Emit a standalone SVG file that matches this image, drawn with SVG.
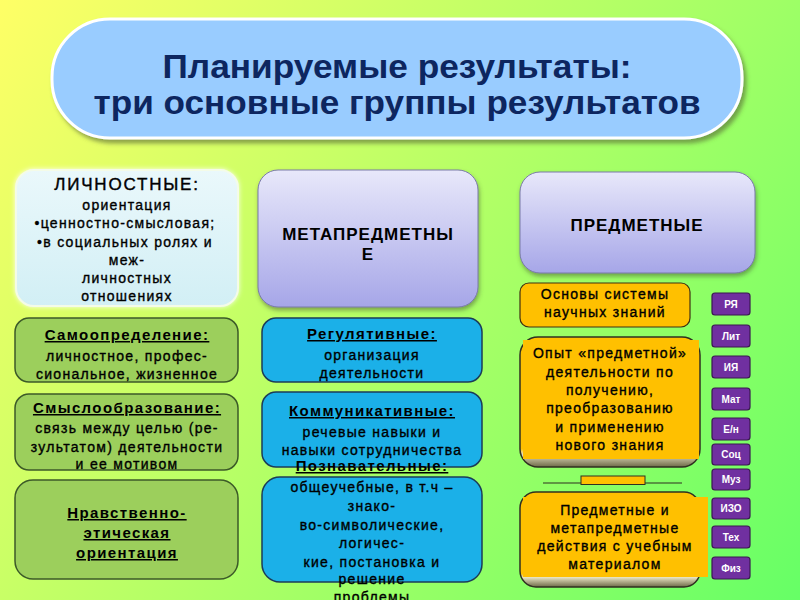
<svg xmlns="http://www.w3.org/2000/svg" width="800" height="600" viewBox="0 0 800 600">
<defs>
<linearGradient id="bg" gradientUnits="userSpaceOnUse" x1="0" y1="0" x2="800" y2="600">
<stop offset="0" stop-color="#ffff66"/><stop offset="1" stop-color="#66ff66"/>
</linearGradient>
<linearGradient id="lav" x1="0" y1="0" x2="0" y2="1">
<stop offset="0" stop-color="#e8e8fa"/><stop offset="1" stop-color="#a6a6e8"/>
</linearGradient>
<linearGradient id="cyan" x1="0" y1="0" x2="0" y2="1">
<stop offset="0" stop-color="#eaf8fb"/><stop offset="1" stop-color="#d2eff5"/>
</linearGradient>
<linearGradient id="scroll" x1="0" y1="0" x2="0" y2="1">
<stop offset="0" stop-color="#ffc000"/><stop offset="0.86" stop-color="#ffc000"/><stop offset="0.9" stop-color="#e6e2c0"/><stop offset="1" stop-color="#6e6a48"/>
</linearGradient>
<filter id="sh" x="-10%" y="-10%" width="125%" height="130%">
<feDropShadow dx="3" dy="4" stdDeviation="2" flood-color="#556633" flood-opacity="0.6"/>
</filter>
<filter id="sh2" x="-10%" y="-10%" width="125%" height="130%">
<feDropShadow dx="1" dy="3" stdDeviation="2" flood-color="#405030" flood-opacity="0.5"/>
</filter>
<filter id="glow" x="-10%" y="-10%" width="120%" height="120%">
<feDropShadow dx="0" dy="0" stdDeviation="2.5" flood-color="#ffffff" flood-opacity="0.9"/>
</filter>
</defs>
<style>
text{font-family:"Liberation Sans",Arial,sans-serif;text-anchor:middle;fill:#000}
.t{font-weight:bold;font-size:34px;fill:#0d2660}
.b{font-size:14px;letter-spacing:1.3px;stroke:#000;stroke-width:0.35px}
.h{font-size:15px;font-weight:bold;letter-spacing:1.4px;text-decoration:underline}
.cap{font-size:17px;font-weight:bold;letter-spacing:1px}
.chip rect{fill:#7030a0;stroke:#3a1850;stroke-width:1.2}
.chip text{fill:#fff;font-size:10px;font-weight:bold}
.green{fill:#9ccf5c;stroke:#3c5a28;stroke-width:1.5}
.blue{fill:#1bb0e8;stroke:#1c3c58;stroke-width:1.5}
.orange{fill:#ffc000;stroke:#403010;stroke-width:1.2}
.scr{fill:url(#scroll);stroke:#303020;stroke-width:1.5}
</style>
<rect width="800" height="600" fill="url(#bg)"/>

<g id="title">
<rect x="52" y="19" width="690" height="119" rx="58" fill="#99ccff" stroke="#ffffff" stroke-width="3" filter="url(#sh)"/>
<text class="t" x="397" y="78" textLength="469" lengthAdjust="spacingAndGlyphs">Планируемые результаты:</text>
<text class="t" x="397" y="114" textLength="607" lengthAdjust="spacingAndGlyphs">три основные группы результатов</text>
</g>

<g id="lichnostnye">
<rect x="16" y="170" width="222" height="136" rx="18" fill="url(#cyan)" stroke="#f4fbe8" stroke-width="2" filter="url(#glow)"/>
<text x="127" y="190" style="font-size:17px;letter-spacing:1.8px;stroke:#000;stroke-width:0.4px">ЛИЧНОСТНЫЕ:</text>
<text class="b" x="127" y="210">ориентация</text>
<text class="b" x="125" y="228">•ценностно-смысловая;</text>
<text class="b" x="125" y="247">•в социальных ролях и</text>
<text class="b" x="127" y="265">меж-</text>
<text class="b" x="127" y="283">личностных</text>
<text class="b" x="127" y="301">отношениях</text>
</g>

<g id="samoopredelenie">
<rect class="green" x="15" y="318" width="223" height="64" rx="14"/>
<text class="h" x="127" y="340">Самоопределение:</text>
<text class="b" x="127" y="361">личностное, профес-</text>
<text class="b" x="127" y="379">сиональное, жизненное</text>
</g>

<g id="smysloobrazovanie">
<rect class="green" x="15" y="394" width="223" height="76" rx="14"/>
<text class="h" x="127" y="413">Смыслообразование:</text>
<text class="b" x="127" y="433">связь между целью (ре-</text>
<text class="b" x="127" y="452">зультатом) деятельности</text>
<text class="b" x="127" y="469">и ее мотивом</text>
</g>

<g id="nravstvenno">
<rect class="green" x="15" y="480" width="223" height="99" rx="18"/>
<text class="h" x="127" y="518">Нравственно-</text>
<text class="h" x="127" y="538">этическая</text>
<text class="h" x="127" y="558">ориентация</text>
</g>

<g id="metapredmetnye">
<rect x="258" y="170" width="220" height="137" rx="20" fill="url(#lav)" stroke="#7a7aa8" stroke-width="1" filter="url(#sh2)"/>
<text class="cap" x="368" y="240">МЕТАПРЕДМЕТНЫ</text>
<text class="cap" x="368" y="260">Е</text>
</g>

<g id="regulyativnye">
<rect class="blue" x="262" y="318" width="220" height="64" rx="14"/>
<text class="h" x="372" y="339">Регулятивные:</text>
<text class="b" x="372" y="360">организация</text>
<text class="b" x="372" y="378">деятельности</text>
</g>

<g id="kommunikativnye">
<rect class="blue" x="262" y="392" width="220" height="75" rx="14"/>
<text class="h" x="372" y="416">Коммуникативные:</text>
<text class="b" x="372" y="437">речевые навыки и</text>
<text class="b" x="372" y="455">навыки сотрудничества</text>
</g>

<g id="poznavatelnye">
<rect class="blue" x="262" y="477" width="220" height="105" rx="18"/>
<text class="h" x="372" y="471">Познавательные:</text>
<text class="b" x="372" y="492">общеучебные, в т.ч –</text>
<text class="b" x="372" y="511">знако-</text>
<text class="b" x="372" y="530">во-символические,</text>
<text class="b" x="372" y="548">логичес-</text>
<text class="b" x="372" y="567">кие, постановка и</text>
<text class="b" x="372" y="584">решение</text>
<text class="b" x="372" y="602">проблемы</text>
</g>

<g id="predmetnye">
<rect x="520" y="172" width="235" height="101" rx="20" fill="url(#lav)" stroke="#7a7aa8" stroke-width="1" filter="url(#sh2)"/>
<text class="cap" x="637" y="231">ПРЕДМЕТНЫЕ</text>
</g>

<g id="osnovy">
<rect class="orange" x="520" y="283" width="170" height="44" rx="9"/>
<text class="b" x="605" y="299">Основы системы</text>
<text class="b" x="605" y="317">научных знаний</text>
</g>

<g id="opyt">
<rect class="scr" x="520" y="337" width="180" height="130" rx="18"/>
<rect x="523" y="340" width="176" height="119" fill="#ffc000"/>
<text class="b" x="610" y="358">Опыт «предметной»</text>
<text class="b" x="610" y="377">деятельности по</text>
<text class="b" x="610" y="395">получению,</text>
<text class="b" x="610" y="413">преобразованию</text>
<text class="b" x="610" y="432">и применению</text>
<text class="b" x="610" y="450">нового знания</text>
</g>

<g id="deystviya">
<rect class="scr" x="520" y="492" width="180" height="95" rx="16"/>
<rect x="523" y="497" width="185" height="80" fill="#ffc000"/>
<text class="b" x="615" y="515">Предметные и</text>
<text class="b" x="615" y="533">метапредметные</text>
<text class="b" x="615" y="551">действия с учебным</text>
<text class="b" x="615" y="569">материалом</text>
</g>

<g id="connectors">
<line x1="543" y1="483" x2="682" y2="483" stroke="#303020" stroke-width="1.2"/>
<rect x="581" y="476" width="64" height="8.5" fill="#ffc000" stroke="#303020" stroke-width="1"/>
</g>

<g id="chip-rya" class="chip"><rect x="712" y="293" width="38" height="22" rx="3"/><text x="731" y="308">РЯ</text></g>
<g id="chip-lit" class="chip"><rect x="712" y="325" width="38" height="22" rx="3"/><text x="731" y="340">Лит</text></g>
<g id="chip-iya" class="chip"><rect x="712" y="356" width="38" height="22" rx="3"/><text x="731" y="371">ИЯ</text></g>
<g id="chip-mat" class="chip"><rect x="712" y="388" width="38" height="22" rx="3"/><text x="731" y="403">Мат</text></g>
<g id="chip-en" class="chip"><rect x="712" y="418" width="38" height="22" rx="3"/><text x="731" y="433">Е/н</text></g>
<g id="chip-soc" class="chip"><rect x="712" y="444" width="38" height="21" rx="3"/><text x="731" y="458">Соц</text></g>
<g id="chip-muz" class="chip"><rect x="712" y="469" width="38" height="21" rx="3"/><text x="731" y="483">Муз</text></g>
<g id="chip-izo" class="chip"><rect x="712" y="498" width="38" height="21" rx="3"/><text x="731" y="512">ИЗО</text></g>
<g id="chip-teh" class="chip"><rect x="712" y="526" width="38" height="22" rx="3"/><text x="731" y="541">Тех</text></g>
<g id="chip-fiz" class="chip"><rect x="712" y="557" width="38" height="22" rx="3"/><text x="731" y="572">Физ</text></g>
</svg>
